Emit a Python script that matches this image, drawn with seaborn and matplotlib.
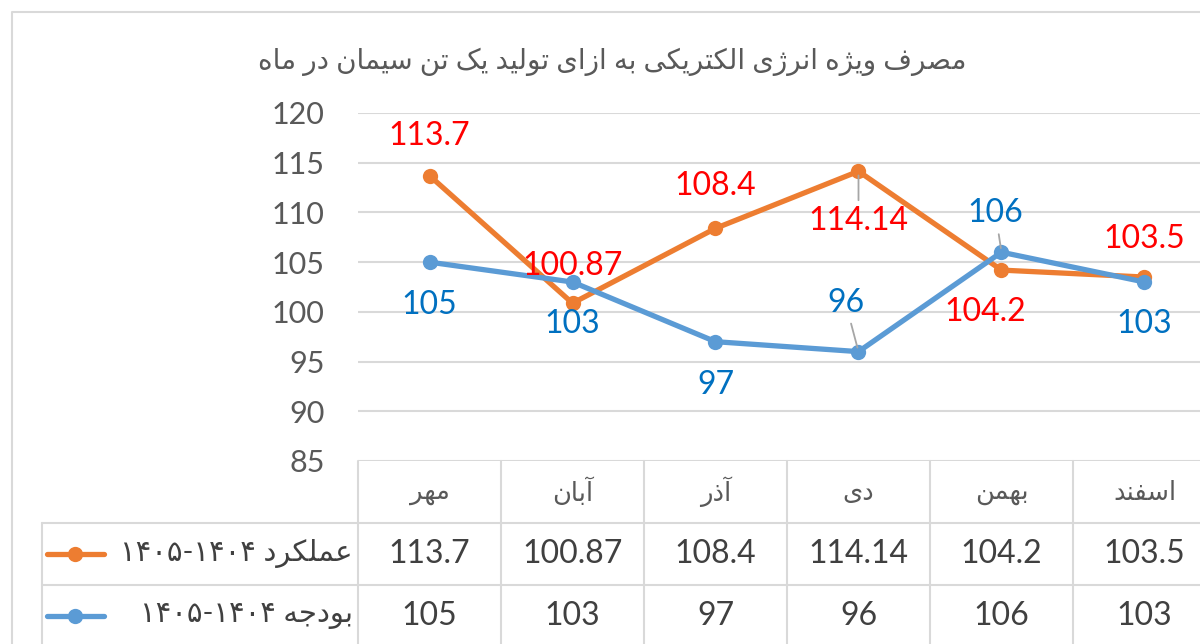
import matplotlib
matplotlib.use("Agg")
import matplotlib.pyplot as plt
import pandas as pd
import seaborn as sns

title = "مصرف ویژه انرژی الکتریکی به ازای تولید یک تن سیمان در ماه"
months = ["مهر", "آبان", "آذر", "دی", "بهمن", "اسفند"]
actual_label = "عملکرد ۱۴۰۵-۱۴۰۴"
budget_label = "بودجه ۱۴۰۵-۱۴۰۴"
actual = [113.7, 100.87, 108.4, 114.14, 104.2, 103.5]
budget = [105, 103, 97, 96, 106, 103]
yticks = [85, 90, 95, 100, 105, 110, 115, 120]

# label offsets in pixels (dx, dy up) and which labels get a leader line
actual_off = [(0, 40), (0, 37), (0, 42), (0, -50), (-16, -42), (0, 38)]
budget_off = [(0, -43), (0, -42), (0, -43), (-13, 49), (-6, 39), (0, -42)]
actual_lead = [False, False, False, True, False, False]
budget_lead = [False, False, False, True, True, False]

orange, blue = "#ED7D31", "#5B9BD5"
red_txt, blue_txt = "#FF0000", "#0070C0"
grey = "#d9d9d9"


# --- minimal Persian shaping (matplotlib has no RTL / joining support) ---
def _four(s):
    return tuple(chr(s + k) for k in range(4))


def _two(s):
    return (chr(s), chr(s + 1), None, None)


FORMS = {
    "ا": _two(0xFE8D), "آ": _two(0xFE81), "د": _two(0xFEA9), "ذ": _two(0xFEAB),
    "ر": _two(0xFEAD), "ز": _two(0xFEAF), "ژ": _two(0xFB8A), "و": _two(0xFEED),
    "ب": _four(0xFE8F), "پ": _four(0xFB56), "ت": _four(0xFE95), "ج": _four(0xFE9D),
    "چ": _four(0xFB7A), "ح": _four(0xFEA1), "خ": _four(0xFEA5), "س": _four(0xFEB1),
    "ش": _four(0xFEB5), "ص": _four(0xFEB9), "ط": _four(0xFEC1), "ع": _four(0xFEC9),
    "ف": _four(0xFED1), "ق": _four(0xFED5), "ک": _four(0xFB8E), "گ": _four(0xFB92),
    "ل": _four(0xFEDD), "م": _four(0xFEE1), "ن": _four(0xFEE5), "ه": _four(0xFEE9),
    "ی": _four(0xFBFC),
}


def shape(word):
    out = []
    for i, ch in enumerate(word):
        f = FORMS.get(ch)
        if f is None:
            out.append(ch)
            continue
        prev = FORMS.get(word[i - 1]) if i > 0 else None
        nxt = FORMS.get(word[i + 1]) if i + 1 < len(word) else None
        jp = prev is not None and prev[2] is not None
        jn = nxt is not None and f[2] is not None
        if jp and jn:
            out.append(f[3])
        elif jp:
            out.append(f[1])
        elif jn:
            out.append(f[2])
        else:
            out.append(f[0])
    return "".join(out)


def rtl(text):
    words = []
    for w in text.split(" "):
        if any(c in FORMS for c in w):
            words.append(shape(w)[::-1])
        else:
            words.append(w)
    return " ".join(words[::-1])


sns.set_theme(style="white")
plt.rcParams["font.family"] = ["Lato", "DejaVu Sans"]

W, H = 1200, 644
fig = plt.figure(figsize=(12, 6.44), dpi=100)
plot_left, col_w = 358, 143
top_px, bottom_px = 113, 461

tab = fig.add_axes([0, 0, 1, 1], zorder=0)
tab.set_xlim(0, W)
tab.set_ylim(H, 0)
tab.axis("off")

ax = fig.add_axes([plot_left / W, 1 - bottom_px / H, 6 * col_w / W,
                   (bottom_px - top_px) / H], zorder=1)
ax.patch.set_alpha(0)

df = pd.DataFrame({
    "month": list(range(len(months))) * 2,
    "value": actual + budget,
    "series": [actual_label] * len(months) + [budget_label] * len(months),
})
sns.lineplot(data=df, x="month", y="value", hue="series",
             palette=[orange, blue], marker="o", markersize=11,
             markeredgewidth=0, linewidth=3.8, legend=False, ax=ax)

ax.set_xlim(-0.5, len(months) - 0.5)
ax.set_ylim(85, 120)
ax.set_yticks(yticks)
ax.set_xticks([])
ax.set_xlabel("")
ax.set_ylabel("")
ax.tick_params(axis="y", length=0, pad=24, labelsize=22, labelcolor="#595959")
ax.grid(axis="y", color=grey, lw=1.5)
ax.set_axisbelow(True)
for s in ax.spines.values():
    s.set_visible(False)

for vals, offs, leads, col in [(actual, actual_off, actual_lead, red_txt),
                               (budget, budget_off, budget_lead, blue_txt)]:
    for i, v in enumerate(vals):
        dx, dy = offs[i]
        kw = {}
        if leads[i]:
            kw["arrowprops"] = dict(arrowstyle="-", color="#a6a6a6", lw=1.3,
                                    shrinkA=2, shrinkB=3)
        ax.annotate(f"{v:g}", (i, v), xytext=(dx, dy), textcoords="offset pixels",
                    ha="center", va="center", fontsize=23, color=col,
                    annotation_clip=False, **kw)

# outer chart border
tab.plot([12, 12, W], [H, 12, 12], color=grey, lw=1.5)

# title
tab.text(612, 62, rtl(title), ha="center", va="center", fontsize=20,
         color="#595959")

# data table
row_top, row_h = bottom_px, 62
legend_left = 42
right = plot_left + col_w * len(months)
for k in range(len(months) + 1):
    tab.plot([plot_left + col_w * k] * 2, [row_top, H], color=grey, lw=1.5)
tab.plot([legend_left, legend_left], [row_top + row_h, H], color=grey, lw=1.5)
for r in (1, 2):
    tab.plot([legend_left, right], [row_top + r * row_h] * 2, color=grey, lw=1.5)

for i, m in enumerate(months):
    cx = plot_left + col_w * (i + 0.5)
    tab.text(cx, row_top + row_h * 0.5, rtl(m), ha="center", va="center",
             fontsize=18.5, color="#595959")
    tab.text(cx, row_top + row_h * 1.5, f"{actual[i]:g}", ha="center",
             va="center", fontsize=23, color="#404040")
    tab.text(cx, row_top + row_h * 2.5, f"{budget[i]:g}", ha="center",
             va="center", fontsize=23, color="#404040")

for r, (lab, col) in enumerate([(actual_label, orange), (budget_label, blue)], start=1):
    cy = row_top + row_h * (r + 0.5)
    tab.plot([47, 104], [cy, cy], color=col, lw=3.8)
    tab.plot([75], [cy], marker="o", color=col, markersize=11, mew=0)
    tab.text(353, cy, rtl(lab), ha="right", va="center", fontsize=21,
             color="#404040")

fig.savefig("out.png", dpi=100)
